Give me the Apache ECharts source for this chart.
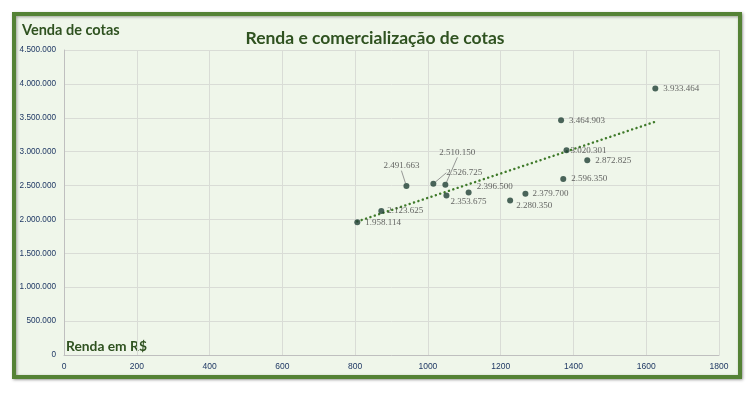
<!DOCTYPE html>
<html>
<head>
<meta charset="utf-8">
<script src="https://cdn.jsdelivr.net/npm/echarts@6/dist/echarts.min.js"></script>
<style>
html,body{margin:0;padding:0;background:#ffffff;}
#chart{width:750px;height:405px;}
</style>
</head>
<body>
<div id="chart"></div>
<script>
// Data
const renda = [806, 872, 941, 1015, 1048, 1051, 1112, 1226, 1268, 1372, 1381, 1438, 1366, 1625];
const vendas = [1958114, 2123625, 2491663, 2526725, 2510150, 2353675, 2396500, 2280350, 2379700, 2596350, 3020301, 2872825, 3464903, 3933464];
const trendX = [806, 1625];
const trendY = [1970000, 3442000];
const xTicks = [0, 200, 400, 600, 800, 1000, 1200, 1400, 1600, 1800];
const yTicks = [0, 500000, 1000000, 1500000, 2000000, 2500000, 3000000, 3500000, 4000000, 4500000];
const titleText = 'Renda e comercialização de cotas';
const yName = 'Venda de cotas';
const xName = 'Renda em R$';

function fmt(v) {
  return String(v).replace(/\B(?=(\d{3})+(?!\d))/g, '.');
}

// label nudges (styling only)
const labelNudge = {
  1: [-2, 0], 2: [-31, -20], 3: [5, -11], 4: [-14, -32],
  5: [-4, 6], 6: [0, -6], 7: [-2, 5], 8: [-1, 0], 10: [-4, 0]
};
const leader = {2: true, 3: true, 4: true};

const scatterData = renda.map((x, i) => {
  const item = { value: [x, vendas[i]] };
  if (leader[i]) item.labelLine = { show: true };
  return item;
});

const chart = echarts.init(document.getElementById('chart'));
chart.setOption({
  backgroundColor: 'transparent',
  animation: false,
  graphic: [
    {
      type: 'rect', z: -10, silent: true,
      shape: { x: 14, y: 14, width: 726, height: 363 },
      style: { fill: '#eff6ea', stroke: '#548235', lineWidth: 4,
               shadowBlur: 3, shadowColor: 'rgba(0,0,0,0.35)', shadowOffsetX: 1, shadowOffsetY: 1 }
    },
    {
      type: 'text', left: 'center', top: 29, silent: true,
      style: { text: titleText, fill: '#2f5220', font: 'bold 17.5px Lato, "Open Sans", sans-serif' }
    },
    {
      type: 'text', left: 22, top: 23, silent: true,
      style: { text: yName, fill: '#2f5220', font: 'bold 14.5px Lato, "Open Sans", sans-serif' }
    },
    {
      type: 'text', left: 66, top: 340, silent: true,
      style: { text: xName, fill: '#2f5220', font: 'bold 13.8px Lato, "Open Sans", sans-serif' }
    }
  ],
  grid: { left: 64, right: 31, top: 50, bottom: 50, containLabel: false },
  xAxis: {
    type: 'value', min: xTicks[0], max: xTicks[xTicks.length - 1], interval: 200,
    axisLine: { show: true, lineStyle: { color: '#bfbfbf' } },
    axisTick: { show: false },
    splitLine: { show: true, lineStyle: { color: '#d9dcd6' } },
    axisLabel: { color: '#1f3864', fontSize: 8.5, fontFamily: 'Liberation Sans', margin: 7,
                 formatter: v => String(v) }
  },
  yAxis: {
    type: 'value', min: yTicks[0], max: yTicks[yTicks.length - 1], interval: 500000,
    axisLine: { show: true, lineStyle: { color: '#bfbfbf' } },
    axisTick: { show: false },
    splitLine: { show: true, lineStyle: { color: '#d9dcd6' } },
    axisLabel: { color: '#1f3864', fontSize: 8.2, fontFamily: 'Liberation Sans', margin: 8,
                 formatter: fmt }
  },
  series: [
    {
      type: 'line',
      data: trendX.map((x, i) => [x, trendY[i]]),
      symbol: 'none',
      lineStyle: { color: '#3f7a2a', width: 2.4, type: [0.1, 4.5], cap: 'round' },
      z: 1
    },
    {
      type: 'scatter',
      data: scatterData,
      symbolSize: 6,
      itemStyle: { color: '#1f4035' },
      label: {
        show: true, position: 'right', distance: 5,
        formatter: p => fmt(p.value[1]),
        color: '#404040', fontSize: 9, fontFamily: 'Liberation Serif'
      },
      labelLine: { show: false, lineStyle: { color: '#7f7f7f', width: 0.8 } },
      labelLayout: function (params) {
        const n = labelNudge[params.dataIndex];
        return n ? { dx: n[0], dy: n[1] } : {};
      },
      z: 2
    }
  ]
});
</script>
</body>
</html>
